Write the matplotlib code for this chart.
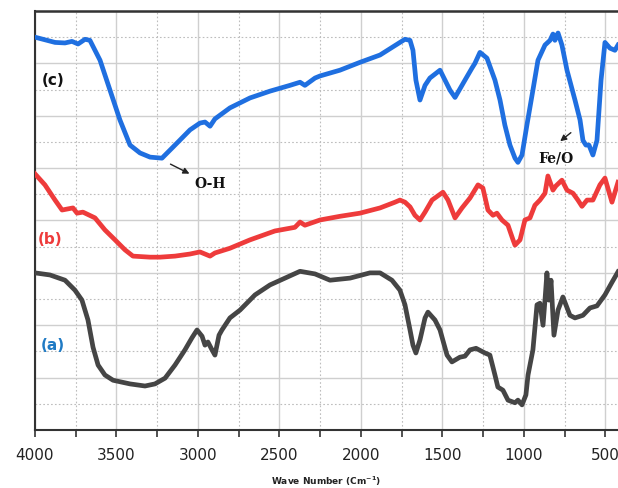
import matplotlib
matplotlib.use("Agg")
import matplotlib.pyplot as plt
from matplotlib.ticker import MultipleLocator

# Curve (c) - blue
wn_c = [4000, 3877, 3816, 3773, 3736, 3693, 3663, 3601, 3540, 3479, 3417, 3356, 3294, 3221,
        3141, 3049, 2988, 2957, 2926, 2896, 2804, 2681, 2558, 2436, 2374, 2344, 2282, 2251,
        2129, 2006, 1883, 1761, 1730, 1699, 1681, 1663, 1638, 1607, 1577, 1515, 1454, 1423,
        1362, 1319, 1301, 1270, 1227, 1178, 1147, 1117, 1086, 1055, 1037, 1012, 982, 945,
        914, 871, 840, 822, 810, 791, 767, 736, 687, 656, 638, 620, 601, 577, 552, 527,
        503, 472, 442, 423]
t_c = [75.0, 74.0, 73.9, 74.2, 73.7, 74.6, 74.4, 70.6, 64.9, 59.2, 54.4, 52.9, 52.1, 51.9,
       54.4, 57.3, 58.6, 58.8, 58.0, 59.4, 61.5, 63.4, 64.7, 65.8, 66.4, 65.8, 67.2, 67.6,
       68.7, 70.2, 71.6, 74.0, 74.6, 74.4, 72.5, 66.8, 63.0, 65.8, 67.2, 68.7, 64.9, 63.5,
       66.8, 69.1, 70.0, 72.1, 71.0, 66.8, 63.0, 58.2, 54.4, 51.9, 51.1, 52.5, 58.2, 64.9,
       70.6, 73.5, 74.4, 75.6, 74.4, 75.8, 73.5, 68.7, 63.0, 59.2, 55.3, 54.4, 54.4, 52.5,
       55.3, 66.8, 74.0, 72.9, 72.5, 73.5]

# Curve (b) - red
wn_b = [4000, 3939, 3877, 3834, 3767, 3742, 3706, 3632, 3571, 3509, 3448, 3399, 3294, 3233,
        3141, 3049, 2988, 2926, 2896, 2804, 2681, 2528, 2405, 2374, 2344, 2251, 2129, 2006,
        1883, 1791, 1761, 1730, 1699, 1669, 1638, 1607, 1564, 1497, 1466, 1423, 1380, 1331,
        1282, 1252, 1221, 1190, 1166, 1135, 1098, 1067, 1055, 1024, 994, 963, 933, 902,
        871, 853, 822, 804, 767, 736, 699, 669, 644, 613, 577, 534, 503, 460, 423]
t_b = [48.9, 46.8, 43.9, 42.0, 42.4, 41.4, 41.6, 40.5, 38.2, 36.3, 34.4, 33.2, 33.0, 33.0,
       33.2, 33.6, 34.0, 33.2, 33.8, 34.7, 36.3, 38.0, 38.7, 39.7, 39.1, 40.1, 40.8, 41.4,
       42.4, 43.5, 43.9, 43.5, 42.6, 41.0, 40.1, 41.6, 43.9, 45.4, 43.9, 40.5, 42.4, 44.3,
       46.8, 46.2, 42.0, 41.0, 41.4, 40.1, 39.1, 36.3, 35.3, 36.3, 40.1, 40.5, 42.9, 43.9,
       45.2, 48.5, 45.8, 46.6, 47.7, 45.8, 45.2, 43.9, 42.7, 43.9, 43.9, 46.8, 48.1, 43.5, 47.3]

# Curve (a) - dark gray
wn_a = [4000, 3908, 3816, 3755, 3712, 3675, 3644, 3613, 3571, 3521, 3417, 3325, 3264, 3202,
        3141, 3080, 3037, 3006, 2975, 2957, 2939, 2914, 2896, 2871, 2853, 2804, 2742, 2650,
        2558, 2466, 2374, 2282, 2190, 2067, 1945, 1883, 1810, 1761, 1730, 1699, 1681, 1663,
        1638, 1607, 1589, 1546, 1515, 1472, 1442, 1393, 1362, 1331, 1294, 1239, 1209, 1178,
        1160, 1129, 1098, 1055, 1037, 1012, 988, 975, 945, 920, 902, 883, 871, 859, 847,
        834, 816, 791, 761, 718, 687, 638, 595, 552, 503, 460, 423]
t_a = [30.0, 29.6, 28.6, 26.7, 24.8, 21.0, 15.8, 12.4, 10.5, 9.5, 8.8, 8.4, 8.8, 9.9,
       12.4, 15.3, 17.6, 19.1, 17.9, 16.2, 16.8, 15.3, 14.3, 18.1, 19.1, 21.4, 22.9, 25.8,
       27.7, 29.0, 30.3, 29.8, 28.6, 29.0, 30.0, 30.0, 28.6, 26.7, 23.9, 19.1, 16.2, 14.7,
       17.2, 21.4, 22.5, 21.0, 19.1, 14.3, 13.0, 13.9, 14.1, 15.3, 15.6, 14.7, 14.3, 10.5,
       8.2, 7.6, 5.7, 5.2, 5.7, 4.8, 6.7, 10.5, 15.3, 23.9, 24.2, 20.0, 24.8, 30.0, 24.8,
       28.6, 18.1, 22.9, 25.4, 21.9, 21.4, 21.9, 23.3, 23.7, 25.8, 28.2, 30.2]

xticks = [4000, 3500, 3000, 2500, 2000, 1500, 1000, 500]
xtick_labels = ["4000", "3500", "3000", "2500", "2000", "1500", "1000", "500"]

fig = plt.figure(figsize=(6.18, 4.88), dpi=100)
ax = fig.add_axes([35 / 618, 58 / 488, 583 / 618, 419 / 488])

lw = 3.4
ax.plot(wn_a, t_a, color="#454545", lw=lw, solid_joinstyle="round", zorder=3)
ax.plot(wn_b, t_b, color="#ee3b3b", lw=lw, solid_joinstyle="round", zorder=3)
ax.plot(wn_c, t_c, color="#1f6fe0", lw=lw, solid_joinstyle="round", zorder=3)

ax.set_xlim(4000, 423)
ax.set_ylim(0, 80)
ax.set_xticks(xticks)
ax.set_xticklabels(xtick_labels)
ax.xaxis.set_minor_locator(MultipleLocator(250))
ax.yaxis.set_major_locator(MultipleLocator(10))
ax.yaxis.set_minor_locator(MultipleLocator(5))
ax.tick_params(axis="y", which="both", left=False, labelleft=False)
ax.tick_params(axis="x", which="both", direction="out", length=5, width=1.2, color="#333333")
ax.tick_params(axis="x", which="major", labelsize=11, pad=8, labelcolor="#222222")

ax.grid(which="major", color="#cfcfcf", lw=1.0, ls="-", zorder=0)
ax.grid(which="minor", color="#bdbdbd", lw=0.8, ls=(0, (1.5, 2)), zorder=0)

for side in ["top", "left", "bottom"]:
    ax.spines[side].set_color("#333333")
    ax.spines[side].set_linewidth(1.5)
ax.spines["top"].set_linewidth(1.8)
ax.spines["right"].set_visible(False)

ax.text(3890, 66.8, "(c)", color="#111111", fontsize=11, fontweight="bold",
        ha="center", va="center")
ax.text(3908, 36.3, "(b)", color="#ee3b3b", fontsize=11, fontweight="bold",
        ha="center", va="center")
ax.text(3890, 16.2, "(a)", color="#1f7ac4", fontsize=11, fontweight="bold",
        ha="center", va="center")

ax.annotate("", xy=(3037, 48.7), xytext=(3184, 51.0),
            arrowprops=dict(arrowstyle="-|>", color="#222222", lw=1, mutation_scale=9))
ax.text(2926, 46.9, "O-H", fontsize=10, fontweight="bold", family="DejaVu Serif",
        ha="center", va="center", color="#111111")
ax.annotate("", xy=(791, 54.8), xytext=(699, 57.1),
            arrowprops=dict(arrowstyle="-|>", color="#222222", lw=1, mutation_scale=9))
ax.text(804, 51.9, "Fe/O", fontsize=10, fontweight="bold", family="DejaVu Serif",
        ha="center", va="center", color="#111111")

fig.text((35 + 618) / 2 / 618, 1 - 481 / 488, "Wave Number (Cm$^{\\mathbf{-1}}$)",
         fontsize=6.5, fontweight="bold", ha="center", va="center", color="#222222")

fig.savefig("out.png", dpi=100)
